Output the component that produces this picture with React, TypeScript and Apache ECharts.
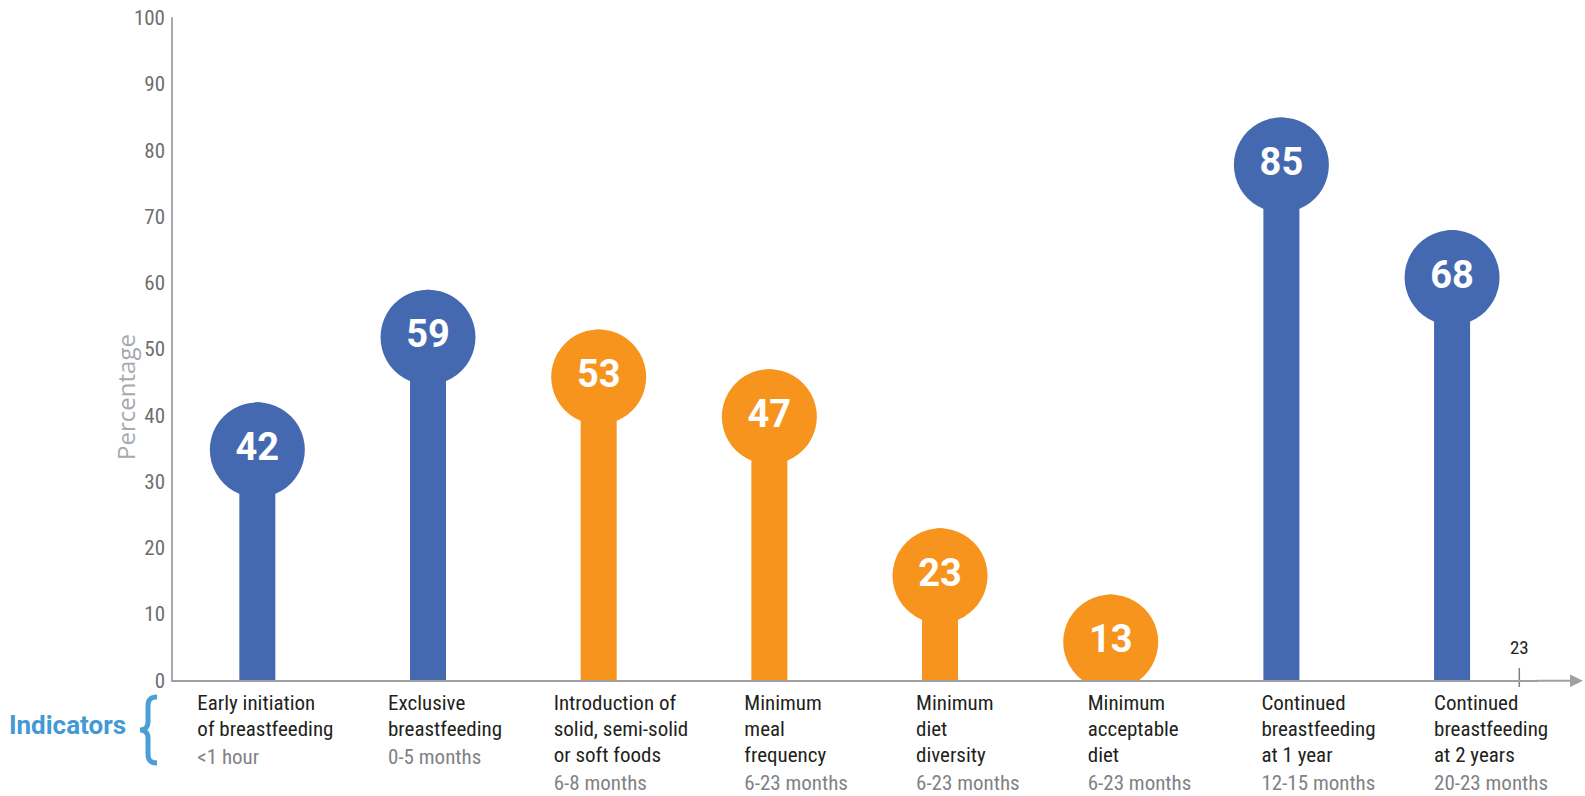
import React, { useEffect, useRef } from "react";
import * as echarts from "echarts";

// Indicator names (line breaks as printed under the axis)
const indicators = [
  "Early initiation\nof breastfeeding",
  "Exclusive\nbreastfeeding",
  "Introduction of\nsolid, semi-solid\nor soft foods",
  "Minimum\nmeal\nfrequency",
  "Minimum\ndiet\ndiversity",
  "Minimum\nacceptable\ndiet",
  "Continued\nbreastfeeding\nat 1 year",
  "Continued\nbreastfeeding\nat 2 years",
];

// Age range each indicator refers to
const ageRanges = [
  "<1 hour",
  "0-5 months",
  "6-8 months",
  "6-23 months",
  "6-23 months",
  "6-23 months",
  "12-15 months",
  "20-23 months",
];

// Percentage of children meeting each indicator
const percentages = [42, 59, 53, 47, 23, 13, 85, 68];

// Which family of indicators each one belongs to
const indicatorGroups = [
  "breastfeeding",
  "breastfeeding",
  "complementary",
  "complementary",
  "complementary",
  "complementary",
  "breastfeeding",
  "breastfeeding",
];

const GROUP_COLORS: Record<string, string> = {
  breastfeeding: "#4569b1",
  complementary: "#f6941d",
};

// horizontal nudge of each category label relative to its bar centre
const LABEL_SHIFT = [-60, -40, -45, -25, -24, -23, -20, -18];

const NARROW = "'Roboto Condensed', Roboto, sans-serif";
const AXIS_GRAY = "#9d9fa2";
const HEAD_RADIUS = 47.5;

const BRACE_PATH =
  "M157,697 C150,697 148,700 148,706 L148,722 C148,727 145,730 140,730 C145,730 148,733 148,738 L148,754 C148,760 150,763 157,763";

let braceRegistered = false;

export default function App() {
  const ref = useRef<HTMLDivElement>(null);

  useEffect(() => {
    if (!ref.current) return;
    if (!braceRegistered) {
      echarts.graphic.registerShape("brace", echarts.graphic.extendPath(BRACE_PATH, {}));
      braceRegistered = true;
    }
    const chart = echarts.init(ref.current, null, { renderer: "svg" });

    const coloured = percentages.map((v, i) => ({
      value: v,
      itemStyle: { color: GROUP_COLORS[indicatorGroups[i]] },
    }));

    chart.setOption({
      animation: false,
      backgroundColor: "#ffffff",
      grid: { left: 172, right: 47.6, top: 18, bottom: 115.3, containLabel: false },
      xAxis: {
        type: "category",
        boundaryGap: true,
        z: 3,
        data: indicators.map((name, i) => ({
          value: name,
          textStyle: {
            align: "left",
            verticalAlign: "top",
            padding: [0, 0, 0, LABEL_SHIFT[i]],
          },
        })),
        axisLine: { show: true, lineStyle: { color: AXIS_GRAY, width: 2 } },
        axisTick: { show: false },
        splitLine: { show: false },
        axisLabel: {
          interval: 0,
          align: "left",
          verticalAlign: "top",
          margin: 9,
          formatter: (value: string, index: number) => {
            const lines = value.split("\n").map((l) => `{t|${l}}`);
            return lines.join("\n") + `\n{s|${ageRanges[index]}}`;
          },
          rich: {
            t: { fontFamily: NARROW, fontSize: 21, lineHeight: 26, color: "#231f20", align: "left" },
            s: { fontFamily: NARROW, fontSize: 21, lineHeight: 30, color: "#808285", align: "left" },
          },
        },
      },
      yAxis: {
        type: "value",
        min: 0,
        max: 100,
        interval: 10,
        axisLine: { show: true, lineStyle: { color: "#a7a9ac", width: 2 } },
        axisTick: { show: false },
        splitLine: { show: false },
        axisLabel: {
          color: "#6d6e71",
          fontFamily: NARROW,
          fontSize: 21,
          margin: 7,
          padding: [0, 0, 14, 0],
        },
      },
      series: [
        {
          type: "bar",
          data: coloured,
          barWidth: 36,
          itemStyle: { borderRadius: [18, 18, 0, 0] },
          z: 2,
        },
        {
          type: "scatter",
          data: coloured,
          symbol: "circle",
          symbolSize: HEAD_RADIUS * 2,
          symbolOffset: [0, HEAD_RADIUS],
          itemStyle: { opacity: 1 },
          z: 2,
          label: {
            show: true,
            position: "inside",
            color: "#ffffff",
            fontFamily: "Roboto, 'Liberation Sans', sans-serif",
            fontWeight: "bold",
            fontSize: 38,
            offset: [0, -3],
            formatter: (p: any) => String(p.value),
          },
        },
      ],
      graphic: [
        // hides the part of a low lollipop head that would dip under the axis
        {
          type: "rect",
          z: 2.5,
          shape: { x: 172, y: 681.7, width: 1366, height: 9 },
          style: { fill: "#ffffff" },
          silent: true,
        },
        {
          type: "text",
          x: 125,
          y: 397,
          rotation: Math.PI / 2,
          style: {
            text: "Percentage",
            fill: "#a7a9ac",
            font: "24px 'Open Sans', sans-serif",
            align: "center",
            verticalAlign: "middle",
          },
        },
        {
          type: "text",
          x: 67.5,
          y: 725,
          style: {
            text: "Indicators",
            fill: "#4299d6",
            font: "bold 26px Roboto, sans-serif",
            align: "center",
            verticalAlign: "middle",
          },
        },
        {
          type: "brace",
          shape: {},
          style: { fill: "none", stroke: "#4a9fd8", lineWidth: 5 },
        },
        // axis continuation with arrow head
        {
          type: "line",
          z: 3,
          shape: { x1: 1537, y1: 680.7, x2: 1572, y2: 680.7 },
          style: { stroke: AXIS_GRAY, lineWidth: 2 },
        },
        {
          type: "polygon",
          z: 3,
          shape: { points: [[1570, 674.5], [1583, 680.7], [1570, 687]] },
          style: { fill: AXIS_GRAY },
        },
        {
          type: "line",
          z: 3,
          shape: { x1: 1519.3, y1: 668, x2: 1519.3, y2: 687 },
          style: { stroke: "#7f7f7f", lineWidth: 1.5 },
        },
        {
          type: "text",
          x: 1519.3,
          y: 647,
          style: {
            text: "23",
            fill: "#231f20",
            font: `19px ${NARROW}`,
            align: "center",
            verticalAlign: "middle",
          },
        },
      ],
    });

    return () => chart.dispose();
  }, []);

  return (
    <div
      ref={ref}
      style={{ position: "fixed", left: 0, top: 0, width: 1585, height: 796, background: "#fff" }}
    />
  );
}
